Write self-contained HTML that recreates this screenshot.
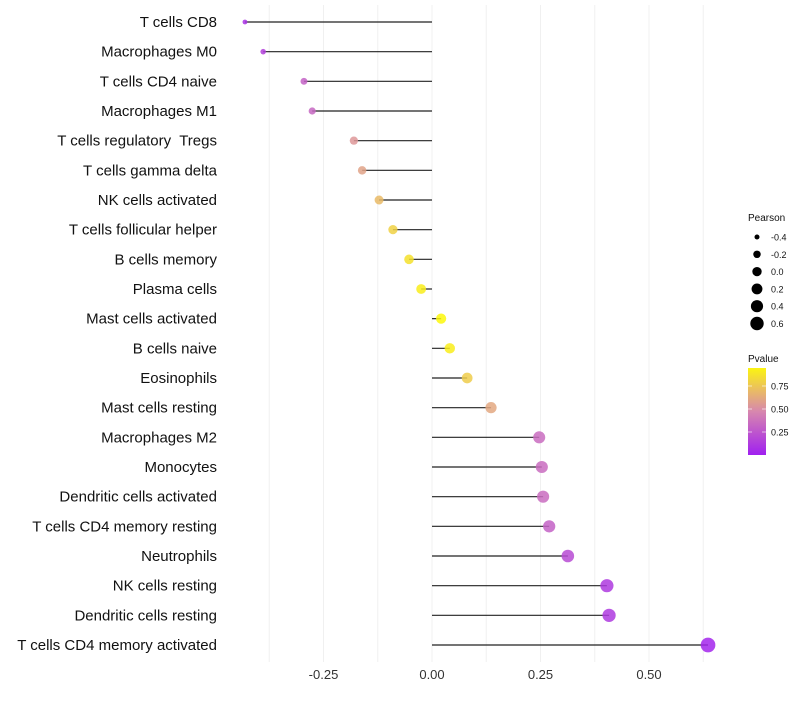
<!DOCTYPE html>
<html><head><meta charset="utf-8"><style>
body{margin:0;background:#fff;font-family:"Liberation Sans",sans-serif}
text{white-space:pre}
</style></head><body>
<svg id="chart" width="800" height="700" xmlns="http://www.w3.org/2000/svg"></svg>
<script>
const categories=["T cells CD8","Macrophages M0","T cells CD4 naive","Macrophages M1","T cells regulatory  Tregs","T cells gamma delta","NK cells activated","T cells follicular helper","B cells memory","Plasma cells","Mast cells activated","B cells naive","Eosinophils","Mast cells resting","Macrophages M2","Monocytes","Dendritic cells activated","T cells CD4 memory resting","Neutrophils","NK cells resting","Dendritic cells resting","T cells CD4 memory activated"];
const pearson=[-0.431,-0.389,-0.295,-0.276,-0.18,-0.161,-0.122,-0.09,-0.053,-0.025,0.021,0.041,0.081,0.136,0.247,0.253,0.256,0.27,0.313,0.403,0.408,0.636];
const pvalue=[0.08,0.15,0.3,0.33,0.55,0.6,0.7,0.8,0.87,0.92,0.97,0.92,0.78,0.62,0.35,0.35,0.35,0.3,0.2,0.12,0.12,0.03];
const xTicks=[-0.25,0,0.25,0.5];
const xTickLabels=["-0.25","0.00","0.25","0.50"];
const sizeLegend=[-0.4,-0.2,0,0.2,0.4,0.6];
const pLegend=[0.25,0.5,0.75];

const svg=document.getElementById('chart');
const NS="http://www.w3.org/2000/svg";
function mk(t,a){const e=document.createElementNS(NS,t);for(const k in a)e.setAttribute(k,a[k]);svg.appendChild(e);return e;}
const x=v=>432+v*434;
const y=i=>22+i*(623/21);
const r=v=>Math.sqrt(Math.max(1,21.7+38.7*v));
function col(p){
  const stops=[[0,[160,32,240]],[0.5,[218,140,170]],[1,[255,255,0]]];
  let a=stops[0],b=stops[1];if(p>0.5){a=stops[1];b=stops[2];}
  const t=(p-a[0])/(b[0]-a[0]);
  const c=a[1].map((v,k)=>Math.round(v+(b[1][k]-v)*t));
  return `rgb(${c[0]},${c[1]},${c[2]})`;
}
for(let g=-0.375;g<=0.626;g+=0.125){
  const l=mk('line',{x1:x(g),x2:x(g),y1:5,y2:662,stroke:'#f0f0f0','stroke-width':1});
  
  
}
xTicks.forEach((t,i)=>{
  const e=mk('text',{x:x(t),y:679,'text-anchor':'middle','font-size':13,fill:'#333'});
  e.textContent=xTickLabels[i];
  
  
});
categories.forEach((c,i)=>{
  const t=mk('text',{x:217,y:y(i)+5,'text-anchor':'end','font-size':15,fill:'#111'});
  t.textContent=c;
  
  
  const l=mk('line',{x1:x(0),x2:x(pearson[i]),y1:y(i),y2:y(i),stroke:'#222','stroke-width':1.2});
  
  
  const d=mk('circle',{cx:x(pearson[i]),cy:y(i),r:r(pearson[i])*1.08,fill:col(pvalue[i]),'fill-opacity':0.85});
  
  
});
const st=mk('text',{x:748,y:221,'font-size':10,fill:'#111'});st.textContent='Pearson';


sizeLegend.forEach((v,i)=>{
  const cy=237+i*17.3;
  const c=mk('circle',{cx:757,cy:cy,r:r(v),fill:'#000'});
  
  
  const t=mk('text',{x:771,y:cy+3.5,'font-size':9,fill:'#111'});t.textContent=v.toFixed(1);
  
  
});
const pt=mk('text',{x:748,y:362,'font-size':10,fill:'#111'});pt.textContent='Pvalue';


const defs=mk('defs',{});
const lg=document.createElementNS(NS,'linearGradient');lg.setAttribute('id','pg');lg.setAttribute('x1','0');lg.setAttribute('y1','1');lg.setAttribute('x2','0');lg.setAttribute('y2','0');
[0,0.25,0.5,0.75,1].forEach(s=>{const o=document.createElementNS(NS,'stop');o.setAttribute('offset',s);o.setAttribute('stop-color',col(s*0.95));lg.appendChild(o);});
defs.appendChild(lg);
const bar=mk('rect',{x:748,y:368,width:18,height:87,fill:'url(#pg)'});


pLegend.forEach(p=>{
  const yy=455-p*92;
  mk('line',{x1:748,x2:752,y1:yy,y2:yy,stroke:'#fff','stroke-opacity':0.6});
  mk('line',{x1:762,x2:766,y1:yy,y2:yy,stroke:'#fff','stroke-opacity':0.6});
  const t=mk('text',{x:771,y:yy+3.5,'font-size':9,fill:'#111'});t.textContent=p.toFixed(2);
  
  
});
</script>
</body></html>
